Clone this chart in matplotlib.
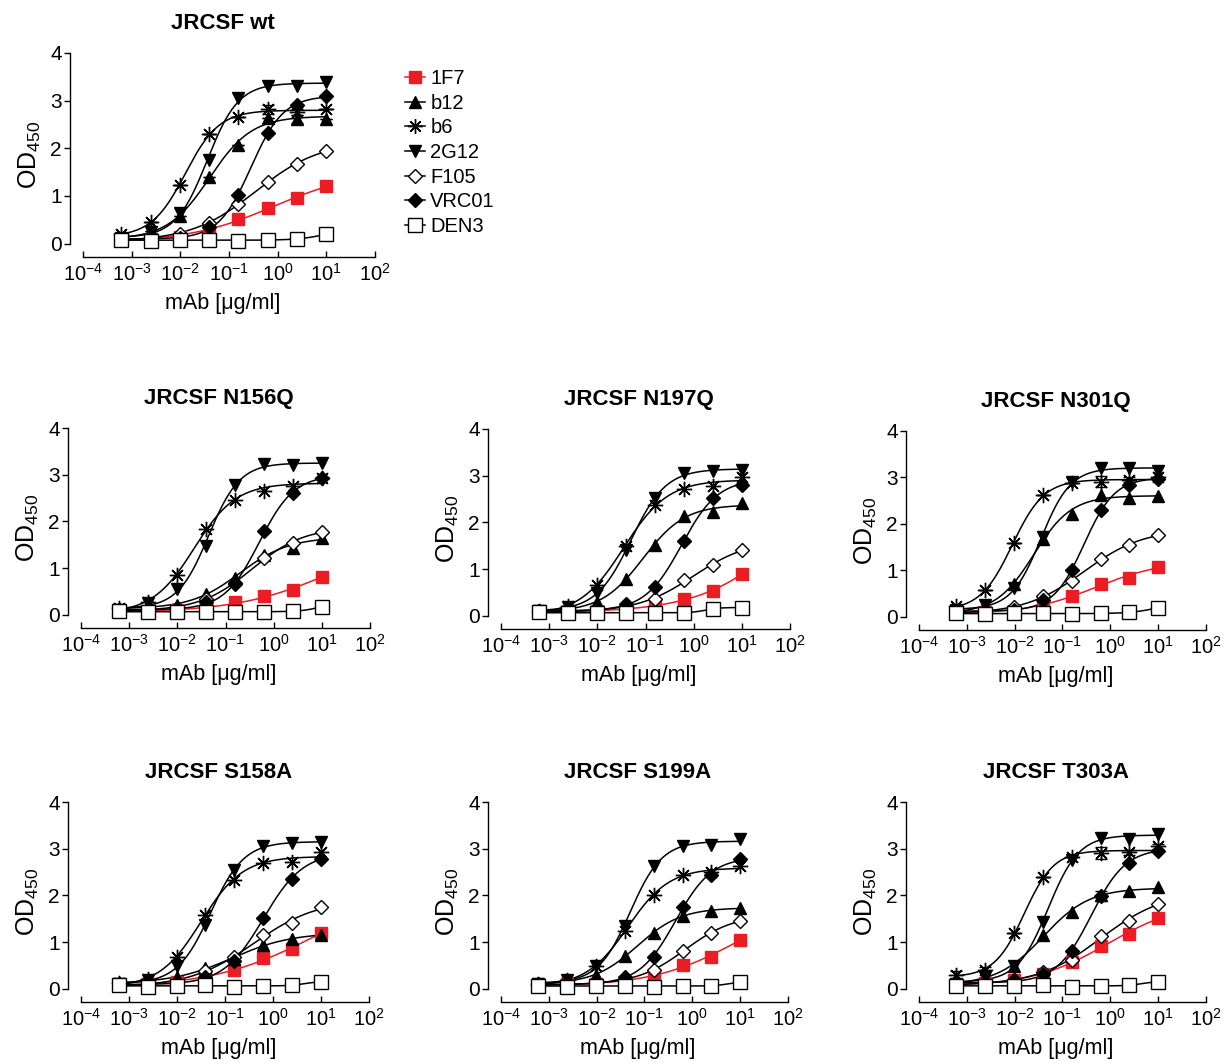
import numpy as np
import matplotlib
matplotlib.use("Agg")
from matplotlib import pyplot as plt
from matplotlib.lines import Line2D

plt.rcParams['font.family'] = ['Liberation Sans', 'DejaVu Sans']
plt.rcParams['mathtext.default'] = 'regular'

# mAb concentrations (4-fold dilutions from 10 ug/ml)
conc = [0.00061, 0.00244, 0.0098, 0.039, 0.156, 0.625, 2.5, 10.0]

mabs = ["1F7", "b12", "b6", "2G12", "F105", "VRC01", "DEN3"]

# OD450, one dict per Env variant
wt = {
    "1F7":   [0.10, 0.10, 0.15, 0.30, 0.52, 0.74, 0.96, 1.20],
    "b12":   [0.12, 0.27, 0.58, 1.39, 2.08, 2.63, 2.62, 2.62],
    "b6":    [0.20, 0.46, 1.24, 2.30, 2.65, 2.82, 2.76, 2.82],
    "2G12":  [0.12, 0.25, 0.64, 1.76, 3.05, 3.31, 3.30, 3.40],
    "F105":  [0.10, 0.12, 0.21, 0.44, 0.83, 1.30, 1.68, 1.94],
    "VRC01": [0.10, 0.10, 0.12, 0.35, 1.02, 2.32, 2.91, 3.10],
    "DEN3":  [0.08, 0.06, 0.08, 0.08, 0.06, 0.08, 0.10, 0.20],
}
n156q = {
    "1F7":   [0.10, 0.08, 0.10, 0.12, 0.28, 0.40, 0.54, 0.82],
    "b12":   [0.12, 0.20, 0.22, 0.45, 0.80, 1.28, 1.44, 1.65],
    "b6":    [0.15, 0.28, 0.85, 1.84, 2.45, 2.66, 2.75, 2.92],
    "2G12":  [0.10, 0.25, 0.55, 1.47, 2.77, 3.23, 3.20, 3.25],
    "F105":  [0.10, 0.12, 0.15, 0.35, 0.69, 1.22, 1.53, 1.78],
    "VRC01": [0.10, 0.10, 0.12, 0.28, 0.66, 1.79, 2.60, 2.92],
    "DEN3":  [0.08, 0.06, 0.07, 0.07, 0.06, 0.07, 0.08, 0.18],
}
n197q = {
    "1F7":   [0.10, 0.08, 0.10, 0.12, 0.25, 0.36, 0.53, 0.90],
    "b12":   [0.10, 0.18, 0.29, 0.78, 1.52, 2.13, 2.22, 2.42],
    "b6":    [0.10, 0.22, 0.66, 1.50, 2.37, 2.72, 2.79, 2.97],
    "2G12":  [0.10, 0.20, 0.49, 1.40, 2.52, 3.05, 3.10, 3.12],
    "F105":  [0.10, 0.10, 0.12, 0.20, 0.37, 0.76, 1.08, 1.41],
    "VRC01": [0.10, 0.10, 0.15, 0.25, 0.62, 1.61, 2.52, 2.81],
    "DEN3":  [0.08, 0.06, 0.07, 0.07, 0.06, 0.07, 0.15, 0.18],
}
n301q = {
    "1F7":   [0.10, 0.10, 0.12, 0.27, 0.45, 0.72, 0.84, 1.08],
    "b12":   [0.15, 0.25, 0.70, 1.68, 2.22, 2.63, 2.56, 2.61],
    "b6":    [0.24, 0.58, 1.59, 2.63, 2.88, 2.91, 2.95, 3.00],
    "2G12":  [0.15, 0.25, 0.63, 1.72, 2.91, 3.20, 3.20, 3.15],
    "F105":  [0.10, 0.12, 0.22, 0.45, 0.77, 1.24, 1.54, 1.77],
    "VRC01": [0.10, 0.12, 0.15, 0.36, 1.00, 2.31, 2.84, 2.96],
    "DEN3":  [0.08, 0.06, 0.08, 0.08, 0.06, 0.08, 0.10, 0.20],
}
s158a = {
    "1F7":   [0.10, 0.10, 0.15, 0.25, 0.41, 0.66, 0.85, 1.20],
    "b12":   [0.12, 0.20, 0.25, 0.45, 0.64, 0.95, 1.06, 1.16],
    "b6":    [0.12, 0.22, 0.68, 1.59, 2.34, 2.70, 2.71, 2.93],
    "2G12":  [0.10, 0.20, 0.48, 1.36, 2.55, 3.05, 3.12, 3.15],
    "F105":  [0.10, 0.10, 0.15, 0.39, 0.68, 1.16, 1.41, 1.75],
    "VRC01": [0.10, 0.10, 0.12, 0.25, 0.59, 1.52, 2.36, 2.79],
    "DEN3":  [0.08, 0.05, 0.07, 0.08, 0.05, 0.06, 0.08, 0.15],
}
s199a = {
    "1F7":   [0.10, 0.10, 0.10, 0.15, 0.29, 0.51, 0.69, 1.05],
    "b12":   [0.10, 0.20, 0.30, 0.70, 1.20, 1.57, 1.66, 1.74],
    "b6":    [0.10, 0.20, 0.48, 1.25, 2.01, 2.43, 2.50, 2.62],
    "2G12":  [0.10, 0.20, 0.50, 1.34, 2.62, 3.05, 3.09, 3.21],
    "F105":  [0.10, 0.10, 0.12, 0.20, 0.41, 0.81, 1.19, 1.46],
    "VRC01": [0.10, 0.10, 0.12, 0.26, 0.69, 1.75, 2.43, 2.79],
    "DEN3":  [0.07, 0.05, 0.07, 0.07, 0.05, 0.06, 0.07, 0.14],
}
t303a = {
    "1F7":   [0.10, 0.12, 0.20, 0.32, 0.57, 0.91, 1.18, 1.52],
    "b12":   [0.15, 0.25, 0.50, 1.16, 1.64, 2.01, 2.09, 2.18],
    "b6":    [0.29, 0.41, 1.19, 2.39, 2.82, 2.91, 2.92, 3.05],
    "2G12":  [0.10, 0.25, 0.48, 1.43, 2.75, 3.24, 3.20, 3.31],
    "F105":  [0.10, 0.12, 0.20, 0.36, 0.62, 1.14, 1.46, 1.82],
    "VRC01": [0.10, 0.12, 0.20, 0.32, 0.81, 1.99, 2.69, 2.96],
    "DEN3":  [0.07, 0.06, 0.07, 0.08, 0.05, 0.06, 0.08, 0.15],
}

# visible error bars (SD), by panel and mAb
errs = {
    ("JRCSF wt", "b6"):    [0, 0, 0, 0, 0, 0.09, 0.07, 0],
    ("JRCSF wt", "b12"):   [0, 0, 0, 0, 0, 0, 0.08, 0],
    ("JRCSF N301Q", "b6"): [0, 0, 0, 0, 0, 0.12, 0.05, 0],
    ("JRCSF T303A", "b6"): [0.09, 0.05, 0, 0, 0, 0.12, 0.05, 0.06],
    ("JRCSF T303A", "VRC01"): [0, 0, 0, 0, 0, 0.1, 0, 0],
}

panels = [
    ("JRCSF wt", wt), ("JRCSF N156Q", n156q), ("JRCSF N197Q", n197q),
    ("JRCSF N301Q", n301q), ("JRCSF S158A", s158a), ("JRCSF S199A", s199a),
    ("JRCSF T303A", t303a),
]

red = '#ec1c24'
style = {
    "1F7":   dict(marker='s', ms=9, mfc=red, mec=red, color=red),
    "b12":   dict(marker='^', ms=9, mfc='k', mec='k', color='k'),
    "b6":    dict(marker=(8, 2, 0), ms=11, mfc='k', mec='k', mew=1.0, color='k'),
    "2G12":  dict(marker='v', ms=9, mfc='k', mec='k', color='k'),
    "F105":  dict(marker='D', ms=7, mfc='white', mec='k', mew=1.0, color='k'),
    "VRC01": dict(marker='D', ms=7, mfc='k', mec='k', color='k'),
    "DEN3":  dict(marker='s', ms=10, mfc='white', mec='k', mew=1.0, color='k'),
}


def fit4pl(x, y):
    # sigmoidal dose-response fit: grid over logEC50 / hill, linear lstsq for bottom/top
    lx = np.log10(x)
    y = np.asarray(y)
    best = None
    for le in np.linspace(-4.5, 3.0, 151):
        for h in np.linspace(0.3, 3.0, 55):
            s = 1.0 / (1.0 + 10 ** ((le - lx) * h))
            A = np.column_stack([1 - s, s])
            coef, *_ = np.linalg.lstsq(A, y, rcond=None)
            r = np.sum((A @ coef - y) ** 2)
            if best is None or r < best[0]:
                best = (r, le, h, coef)
    _, le, h, (bot, top) = best
    xs = np.logspace(lx.min(), lx.max(), 200)
    ys = bot + (top - bot) / (1.0 + 10 ** ((le - np.log10(xs)) * h))
    return xs, ys


W, H = 1227, 1064
fig = plt.figure(figsize=(W / 100, H / 100), dpi=100)

# axes boxes in pixels: left, top, right, bottom
boxes = [
    (70, 53, 375, 257),
    (68, 428, 370, 628), (488, 429, 790, 629), (906, 431, 1206, 630),
    (68, 802, 369, 1002), (488, 802, 788, 1002), (906, 802, 1206, 1002),
]

for (title, data), (l, t, r, b) in zip(panels, boxes):
    ax = fig.add_axes([l / W, 1 - b / H, (r - l) / W, (b - t) / H])
    ax.set_xscale('log')
    ax.set_xlim(10 ** -4.27, 1e2)
    ax.set_ylim(-0.28, 4.0)
    for m in mabs:
        st = dict(style[m])
        col = st.pop('color')
        xs, ys = fit4pl(conc, data[m])
        ax.plot(xs, ys, '-', color=col, lw=1.1, zorder=2)
        e = errs.get((title, m))
        if e is not None:
            ax.errorbar(conc, data[m], yerr=e, fmt='none', ecolor='k',
                        elinewidth=1, capsize=4, zorder=2)
        ax.plot(conc, data[m], ls='none', zorder=3, label=m, **st)
    ax.spines['top'].set_visible(False)
    ax.spines['right'].set_visible(False)
    ax.spines['left'].set_bounds(0, 4)
    ax.spines['bottom'].set_bounds(1e-4, 1e2)
    for s in ('left', 'bottom'):
        ax.spines[s].set_linewidth(1.0)
    ax.set_yticks([0, 1, 2, 3, 4])
    ax.set_xticks([1e-4, 1e-3, 1e-2, 1e-1, 1e0, 1e1, 1e2])
    ax.xaxis.set_minor_locator(matplotlib.ticker.NullLocator())
    ax.tick_params(axis='y', direction='out', length=4, width=1, labelsize=15, pad=2)
    ax.tick_params(axis='x', direction='in', length=4, width=1, labelsize=14.5, pad=4)
    ax.set_ylabel('OD$_{450}$', fontsize=18, labelpad=5)
    ax.set_xlabel('mAb [μg/ml]', fontsize=15.5, labelpad=6)
    ax.set_title(title, fontsize=16, fontweight='bold', pad=17)

handles = []
for m in mabs:
    st = dict(style[m])
    col = st.pop('color')
    handles.append(Line2D([], [], color=col, lw=1.1, **st))
fig.legend(handles, mabs, loc='upper left', bbox_to_anchor=(397 / W, 1 - 61 / H),
           frameon=False, fontsize=14.5, handlelength=1.0, handletextpad=0.25,
           labelspacing=0.28, markerscale=0.95, borderaxespad=0)

plt.savefig("out.png", dpi=100)
